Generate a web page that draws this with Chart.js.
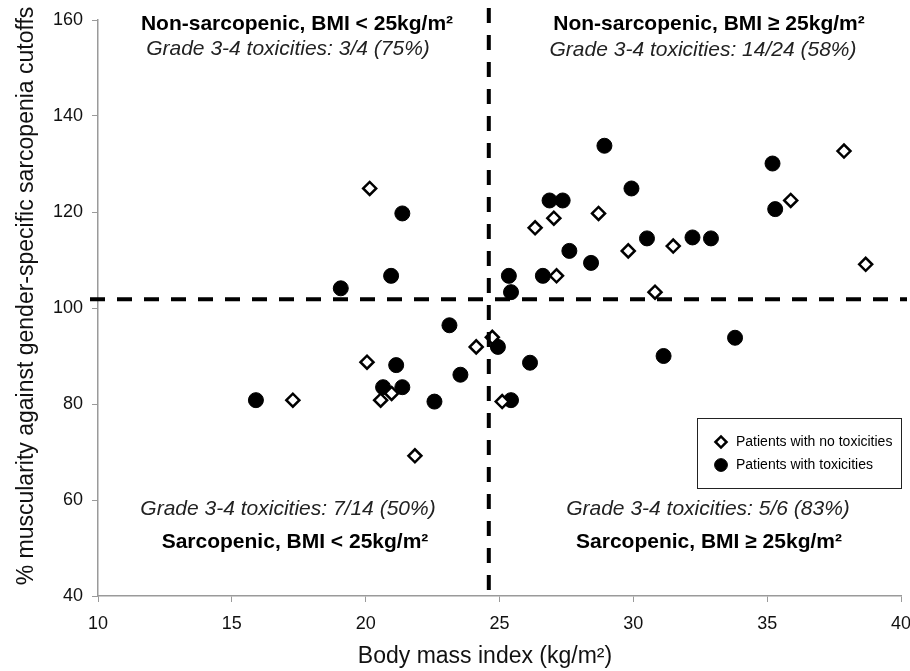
<!DOCTYPE html>
<html>
<head>
<meta charset="utf-8">
<script src="https://cdn.jsdelivr.net/npm/chart.js@4.4.0/dist/chart.umd.min.js"></script>
<style>
  html, body { margin: 0; padding: 0; background: #fff; }
  #wrap { width: 910px; height: 671px; }
</style>
</head>
<body>
<div id="wrap"><canvas id="chart"></canvas></div>
<script>
// Patients with no toxicities (BMI, % muscularity)
const noToxBmi = [20.15, 37.87, 35.88, 28.7, 27.03, 26.33, 31.49, 29.81, 38.68, 27.13, 30.81,
  24.73, 24.13, 20.05, 20.97, 20.56, 17.28, 21.84, 25.1];
const noToxMusc = [124.9, 132.7, 122.4, 119.7, 118.7, 116.7, 112.9, 111.9, 109.1, 106.7, 103.3,
  93.9, 91.9, 88.7, 82.2, 80.8, 80.8, 69.2, 80.5];

// Patients with toxicities
const toxBmi = [21.37, 20.95, 19.07, 28.92, 35.2, 29.93, 26.87, 27.36, 35.3, 30.51, 32.21, 32.9,
  27.61, 28.42, 25.35, 26.62, 25.43, 23.13, 21.14, 23.54, 20.65, 21.37, 15.9, 22.57,
  24.94, 33.8, 26.14, 31.13, 25.43];
const toxMusc = [119.7, 106.7, 104.1, 133.8, 130.1, 124.9, 122.4, 122.4, 120.6, 114.5, 114.7, 114.5,
  111.9, 109.4, 106.7, 106.7, 103.3, 96.4, 88.1, 86.1, 83.5, 83.5, 80.8, 80.5,
  91.9, 93.8, 88.6, 90.0, 80.8];

// cutoffs drawn as dashed lines
const bmiCutoff = 24.6;
const muscCutoff = 101.8;

const xTicks = [10, 15, 20, 25, 30, 35, 40];
const yTicks = [40, 60, 80, 100, 120, 140, 160];

const xTitle = 'Body mass index (kg/m²)';
const yTitle = '% muscularity against gender-specific sarcopenia cutoffs';

const quadrantLabels = [
  { bold: 'Non-sarcopenic, BMI < 25kg/m²', italic: 'Grade 3-4 toxicities: 3/4 (75%)' },
  { bold: 'Non-sarcopenic, BMI ≥ 25kg/m²', italic: 'Grade 3-4 toxicities: 14/24 (58%)' },
  { bold: 'Sarcopenic, BMI < 25kg/m²', italic: 'Grade 3-4 toxicities: 7/14 (50%)' },
  { bold: 'Sarcopenic, BMI ≥ 25kg/m²', italic: 'Grade 3-4 toxicities: 5/6 (83%)' }
];
const legendLabels = ['Patients with no toxicities', 'Patients with toxicities'];

const toPoints = (xs, ys) => xs.map((x, i) => ({ x: x, y: ys[i] }));

const FONT = '"Liberation Sans", Arial, sans-serif';

// dashed cutoff lines, axis titles, quadrant texts and the boxed legend
const overlay = {
  id: 'overlay',
  afterDatasetsDraw(chart) {
    const ctx = chart.ctx;
    const xs = chart.scales.x, ys = chart.scales.y;
    const a = chart.chartArea;

    ctx.save();
    ctx.strokeStyle = '#000';
    ctx.lineWidth = 4;
    ctx.setLineDash([15, 12]);
    const cx = xs.getPixelForValue(bmiCutoff);
    ctx.beginPath();
    ctx.moveTo(cx, a.top - 12);
    ctx.lineTo(cx, a.bottom + 4);
    ctx.stroke();
    const cy = ys.getPixelForValue(muscCutoff);
    ctx.beginPath();
    ctx.moveTo(a.left - 8, cy);
    ctx.lineTo(a.right + 6, cy);
    ctx.stroke();
    ctx.setLineDash([]);

    // axis titles (Excel places them a little off the plot centre)
    ctx.fillStyle = '#111';
    ctx.font = '23px ' + FONT;
    ctx.textAlign = 'center';
    ctx.textBaseline = 'alphabetic';
    ctx.fillText(xTitle, 485, 663);
    ctx.save();
    ctx.translate(33, 296);
    ctx.rotate(-Math.PI / 2);
    ctx.fillText(yTitle, 0, 0);
    ctx.restore();

    // text anchors (centre x, baseline y)
    const spots = [
      { bx: 297, by: 30, ix: 288, iy: 55 },
      { bx: 709, by: 30, ix: 703, iy: 56 },
      { bx: 295, by: 548, ix: 288, iy: 515 },
      { bx: 709, by: 548, ix: 708, iy: 515 }
    ];
    quadrantLabels.forEach((q, i) => {
      const s = spots[i];
      ctx.font = 'bold 21px ' + FONT;
      ctx.fillStyle = '#000';
      ctx.fillText(q.bold, s.bx, s.by);
      ctx.font = 'italic 21px ' + FONT;
      ctx.fillStyle = '#222';
      ctx.fillText(q.italic, s.ix, s.iy);
    });

    // legend box
    ctx.lineWidth = 1;
    ctx.strokeStyle = '#222';
    ctx.fillStyle = '#fff';
    ctx.fillRect(697.5, 418.5, 204, 70);
    ctx.strokeRect(697.5, 418.5, 204, 70);
    ctx.textBaseline = 'middle';
    const lineY = [442, 465];
    chart.data.datasets.forEach((ds, i) => {
      ctx.fillStyle = ds.pointBackgroundColor;
      ctx.strokeStyle = ds.pointBorderColor;
      ctx.lineWidth = ds.pointBorderWidth;
      Chart.helpers.drawPoint(ctx, {
        pointStyle: ds.pointStyle, radius: ds.pointRadius * 0.85, rotation: 0, borderWidth: ds.pointBorderWidth
      }, 721, lineY[i]);
      ctx.fillStyle = '#000';
      ctx.font = '14px ' + FONT;
      ctx.textAlign = 'left';
      ctx.fillText(legendLabels[i], 736, lineY[i]);
    });
    ctx.restore();
  }
};

new Chart(document.getElementById('chart'), {
  type: 'scatter',
  data: {
    datasets: [
      {
        label: legendLabels[0],
        data: toPoints(noToxBmi, noToxMusc),
        pointStyle: 'rectRot',
        pointRadius: 6.5,
        pointBackgroundColor: '#fff',
        pointBorderColor: '#000',
        pointBorderWidth: 2.5
      },
      {
        label: legendLabels[1],
        data: toPoints(toxBmi, toxMusc),
        pointStyle: 'circle',
        pointRadius: 7.5,
        pointBackgroundColor: '#000',
        pointBorderColor: '#000',
        pointBorderWidth: 1
      }
    ]
  },
  options: {
    responsive: true,
    maintainAspectRatio: false,
    animation: false,
    layout: { padding: { top: 20, right: 8, left: 0, bottom: 0 } },
    plugins: {
      legend: { display: false },
      tooltip: { enabled: false }
    },
    scales: {
      x: {
        type: 'linear',
        min: 10, max: 40,
        afterBuildTicks: (s) => { s.ticks = xTicks.map(v => ({ value: v })); },
        afterFit: (s) => { s.height = 75; s.paddingLeft = 0; s.paddingRight = 0; },
        border: { color: '#9a9a9a', width: 1.5 },
        grid: { drawOnChartArea: false, drawTicks: true, tickLength: 6, color: '#9a9a9a' },
        ticks: { color: '#111', font: { family: FONT, size: 18 }, padding: 11, maxRotation: 0 }
      },
      y: {
        type: 'linear',
        min: 40, max: 160,
        afterBuildTicks: (s) => { s.ticks = yTicks.map(v => ({ value: v })); },
        afterFit: (s) => { s.width = 98; s.paddingTop = 0; s.paddingBottom = 0; },
        border: { color: '#9a9a9a', width: 1.5 },
        grid: { drawOnChartArea: false, drawTicks: true, tickLength: 6, color: '#9a9a9a' },
        ticks: { color: '#111', font: { family: FONT, size: 18 }, padding: 9 }
      }
    }
  },
  plugins: [overlay]
});
</script>
</body>
</html>
